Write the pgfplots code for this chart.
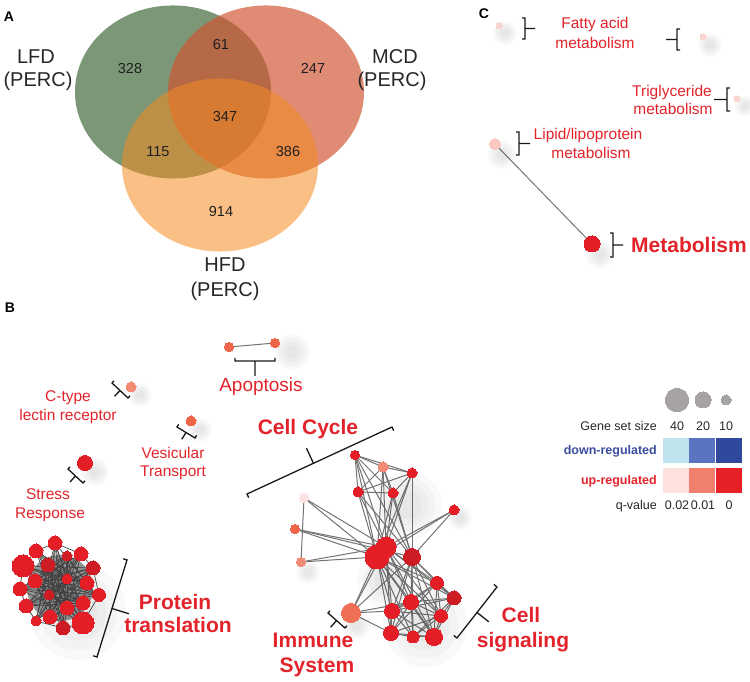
\documentclass[border=0pt]{standalone}
\usepackage{pgfplots}
\pgfplotsset{compat=1.18}
\usepackage{pgfplotstable}
\usepackage{fontspec}
\setmainfont{Liberation Sans}

\definecolor{vgreen}{RGB}{67,107,62}
\definecolor{vsalmon}{RGB}{209,84,49}
\definecolor{vorange}{RGB}{244,139,33}
\definecolor{labred}{RGB}{226,35,42}
\definecolor{blabel}{RGB}{58,77,159}
\definecolor{edgegray}{RGB}{115,115,115}
\definecolor{meshgray}{RGB}{70,70,70}
\definecolor{cred}{RGB}{228,30,38}
\definecolor{cdred}{RGB}{205,28,36}
\definecolor{corange}{RGB}{238,101,73}
\definecolor{csalmon}{RGB}{242,138,116}
\definecolor{cpale}{RGB}{251,226,222}
\definecolor{cpink}{RGB}{248,200,193}
\definecolor{clpink}{RGB}{250,214,209}
\definecolor{cimm}{RGB}{239,110,86}
\definecolor{cleg}{RGB}{167,162,164}
\definecolor{bA}{RGB}{191,228,238}
\definecolor{bB}{RGB}{90,116,194}
\definecolor{bC}{RGB}{47,74,156}
\definecolor{bD}{RGB}{253,225,221}
\definecolor{bE}{RGB}{240,127,109}
\definecolor{bF}{RGB}{229,32,39}

\pgfplotsset{
  nodeplot/.style={only marks, scatter, mark=*,
    scatter/use mapped color={draw=#1, fill=#1, line width=0pt},
    visualization depends on={\thisrow{r}\as\rr},
    scatter/@pre marker code/.append style={/tikz/mark size=\rr pt}},
  shadowplot/.style={only marks, scatter, mark=*,
    scatter/use mapped color={draw=black, draw opacity=0, fill=black, fill opacity=0.022},
    visualization depends on={#1*\thisrow{r}\as\rr},
    scatter/@pre marker code/.append style={/tikz/mark size=\rr pt}},
  boxplot/.style={only marks, mark=square*, mark size=12.5pt, mark options={yscale=0.95, draw=#1, fill=#1, line width=0.3pt}},
  venn/.style 2 args={only marks, mark=*, mark size=98pt, mark options={yscale=0.883, draw=#1, draw opacity=0, fill=#1, fill opacity=#2}},
}

% node tables, one per colour: x y radius
\pgfplotstableread{
x y r
85 463 7.5
355 455 4.5
412 473 5
358 492 5
393 493 5
454 510 5
386 547 10
377 557 12
437 583 6.5
411 602 7.5
392 611 7.5
441 616 6.5
391 633 7.5
413 637 6
434 637 8.5
55 543 7
36 551 7
81 554 7
23 566 11
35 581 7
67 579 5
87 583 7
20 589 7
99 595 6.5
26 606 7
67 608 7
83 603 7
50 617 7
36 621 5
83 623 11
592 244 8
}\nRed
\pgfplotstableread{
x y r
412 557 8.5
454 598 7
67 556 5
48 565 7
93 568 7
49 595 5
63 628 7
}\nDred
\pgfplotstableread{
x y r
229 347 4.7
275 343 4.5
191 421 5
295 529 4.5
}\nOrange
\pgfplotstableread{
x y r
131 387 5
383 467 5
301 562 4.5
}\nSalmon
\pgfplotstableread{
x y r
304 498 4.5
}\nPale
\pgfplotstableread{
x y r
495 144 5.5
}\nPink
\pgfplotstableread{
x y r
499 26 3
703 37 3
737 99 3
}\nLpink
\pgfplotstableread{
x y r
351 613 9.5
}\nImm
\pgfplotstableread{
x y r
677 400 11.7
703 400 8
726 400 5
}\nLeg

\pgfplotstableread{
x y r
78 612 48
408 505 34
425 625 42
385 580 28
292 352 18
140 395 12
200 430 12
95 472 14
505 33 12
710 45 12
745 106 10
502 155 14
600 255 14
460 518 12
308 572 12
357 625 14
}\shadows

\pgfplotstableread{
x1 y1 x2 y2
229 347 275 343
495 144 592 244
355 455 383 467
355 455 358 492
355 455 393 493
355 455 412 473
383 467 412 473
383 467 358 492
383 467 393 493
412 473 358 492
412 473 393 493
358 492 393 493
355 455 377 557
355 455 386 547
383 467 377 557
383 467 386 547
383 467 412 557
412 473 412 557
412 473 386 547
412 473 377 557
358 492 377 557
358 492 386 547
358 492 412 557
393 493 377 557
393 493 386 547
393 493 412 557
355 455 412 557
304 498 301 562
304 498 377 557
304 498 386 547
295 529 377 557
295 529 386 547
295 529 412 557
301 562 377 557
301 562 386 547
454 510 377 557
454 510 386 547
454 510 412 557
377 557 437 583
377 557 454 598
377 557 411 602
377 557 392 611
377 557 441 616
377 557 391 633
377 557 413 637
377 557 434 637
386 547 437 583
386 547 454 598
386 547 411 602
386 547 392 611
386 547 441 616
386 547 391 633
386 547 434 637
412 557 437 583
412 557 454 598
412 557 411 602
412 557 392 611
412 557 441 616
412 557 413 637
412 557 434 637
412 557 391 633
437 583 454 598
437 583 411 602
437 583 392 611
437 583 441 616
437 583 391 633
437 583 434 637
454 598 411 602
454 598 392 611
454 598 441 616
454 598 434 637
454 598 413 637
411 602 392 611
411 602 441 616
411 602 391 633
411 602 413 637
411 602 434 637
392 611 441 616
392 611 391 633
392 611 413 637
392 611 434 637
441 616 391 633
441 616 413 637
441 616 434 637
391 633 413 637
413 637 434 637
391 633 434 637
351 613 377 557
351 613 386 547
351 613 412 557
351 613 392 611
351 613 391 633
351 613 411 602
}\edgesB

\pgfplotstableread{
x1 y1 x2 y2
55 543 81 554
81 554 93 568
93 568 99 595
99 595 83 623
83 623 63 628
63 628 36 621
36 621 26 606
26 606 20 589
20 589 23 566
23 566 36 551
36 551 55 543
55 543 63 628
55 543 83 623
55 543 36 621
55 543 50 617
55 543 67 608
55 543 67 579
55 543 49 595
55 543 87 583
81 554 26 606
81 554 36 621
81 554 63 628
81 554 20 589
81 554 35 581
81 554 49 595
81 554 50 617
93 568 20 589
93 568 26 606
93 568 35 581
93 568 23 566
93 568 50 617
93 568 49 595
93 568 36 621
99 595 23 566
99 595 36 551
99 595 20 589
99 595 35 581
99 595 48 565
99 595 26 606
83 623 36 551
83 623 23 566
83 623 48 565
83 623 67 556
83 623 20 589
83 623 35 581
63 628 36 551
63 628 67 556
63 628 23 566
63 628 48 565
36 621 67 556
36 621 48 565
36 621 87 583
36 621 67 579
26 606 67 556
26 606 87 583
26 606 67 579
26 606 83 603
20 589 67 556
20 589 87 583
20 589 83 603
23 566 87 583
23 566 83 603
23 566 67 608
23 566 67 579
36 551 83 603
36 551 67 608
36 551 87 583
36 551 67 579
67 556 67 579
67 556 48 565
67 556 87 583
48 565 35 581
48 565 67 579
35 581 49 595
67 579 49 595
67 579 87 583
87 583 83 603
49 595 67 608
49 595 50 617
67 608 83 603
67 608 50 617
35 581 67 579
48 565 49 595
67 556 49 595
67 579 67 608
67 579 83 603
87 583 67 608
49 595 83 603
35 581 50 617
48 565 67 608
67 556 67 608
48 565 87 583
35 581 83 603
35 581 67 608
50 617 83 603
67 556 35 581
50 617 67 579
}\meshP

\pgfplotstableread{
x y
235 358
235 361
275 361
275 358
nan nan
255 361
255 376
nan nan
114 380.8
112 383
128 398
130 395.8
nan nan
120 390.5
114.6 396.3
nan nan
178.6 424.4
177 427
195 438
196.6 435.4
nan nan
186 432.5
181.8 439.3
nan nan
70 466.8
68 469
83 483
85 480.8
nan nan
75.5 476
70 482
nan nan
248.7 497.6
247 494
392 427
393.7 430.6
nan nan
313.5 463.4
306.5 448.3
nan nan
123.2 558.8
127 560
97 657
93.2 655.8
nan nan
112 608.5
129 613.8
nan nan
330 610.8
328 613
345 628
347 625.8
nan nan
336.5 620.5
330.6 627.3
nan nan
493.9 584.5
497 587
457 638
453.9 635.5
nan nan
477 612.5
488.8 621.8
nan nan
522 18
525 18
525 39
522 39
nan nan
525 28.5
535 28.5
nan nan
680 29
677 29
677 50
680 50
nan nan
677 39.5
666 39.5
nan nan
730 88
727 88
727 111
730 111
nan nan
727 99.5
714 99.5
nan nan
516 132
519 132
519 155
516 155
nan nan
519 143.5
530 143.5
nan nan
610 233
613 233
613 257
610 257
nan nan
613 245
623 245
}\brackets

\tikzset{
  vnum/.style={anchor=base, inner sep=0pt, font=\fontsize{14.5}{17}\selectfont, text=black!88},
  vlab/.style={anchor=base, inner sep=0pt, font=\fontsize{20}{23}\selectfont, text=black!85},
  plet/.style={anchor=base, inner sep=0pt, font=\fontsize{14}{16}\selectfont\bfseries},
  lab/.style={anchor=base, inner sep=0pt, font=\fontsize{15.5}{18}\selectfont, text=labred},
  blab/.style={anchor=base, inner sep=0pt, font=\fontsize{21}{24}\selectfont\bfseries, text=labred},
  leg/.style={anchor=base, inner sep=0pt, font=\fontsize{12.5}{15}\selectfont, text=black!85},
}

\begin{document}
\begin{tikzpicture}
\begin{axis}[x=1pt, y=1pt, xmin=0, xmax=750, ymin=0, ymax=682, y dir=reverse, hide axis, clip=false, set layers]
\coordinate (BL) at (axis cs:0,682);
\coordinate (TR) at (axis cs:750,0);

% ---------- Venn (panel A)
\addplot[venn={vgreen}{0.7}] coordinates {(173,92)};
\addplot[venn={vsalmon}{0.68}] coordinates {(266,92)};
\addplot[venn={vorange}{0.55}] coordinates {(220,165)};

% ---------- shadows
\addplot[shadowplot=1.0] table[x=x,y=y] {\shadows};
\addplot[shadowplot=0.8] table[x=x,y=y] {\shadows};
\addplot[shadowplot=0.6] table[x=x,y=y] {\shadows};
\addplot[shadowplot=0.4] table[x=x,y=y] {\shadows};

% ---------- edges
\addplot[only marks, mark=*, mark size=33pt, mark options={draw=black, draw opacity=0, fill=black!75, fill opacity=0.55}] coordinates {(60,588)};
\addplot[meshgray, line width=0.7pt, no markers, quiver={u=\thisrow{x2}-\thisrow{x1}, v=\thisrow{y2}-\thisrow{y1}}] table[x=x1,y=y1] {\meshP};
\addplot[edgegray, line width=1pt, no markers, quiver={u=\thisrow{x2}-\thisrow{x1}, v=\thisrow{y2}-\thisrow{y1}}] table[x=x1,y=y1] {\edgesB};

% ---------- brackets
\addplot[black!90, line width=1.3pt, no markers, unbounded coords=jump] table[x=x,y=y] {\brackets};

% ---------- nodes
\addplot[nodeplot=cred] table[x=x,y=y] {\nRed};
\addplot[nodeplot=cdred] table[x=x,y=y] {\nDred};
\addplot[nodeplot=corange] table[x=x,y=y] {\nOrange};
\addplot[nodeplot=csalmon] table[x=x,y=y] {\nSalmon};
\addplot[nodeplot=cpale] table[x=x,y=y] {\nPale};
\addplot[nodeplot=cpink] table[x=x,y=y] {\nPink};
\addplot[nodeplot=clpink] table[x=x,y=y] {\nLpink};
\addplot[nodeplot=cimm] table[x=x,y=y] {\nImm};
\addplot[nodeplot=cleg] table[x=x,y=y] {\nLeg};

% ---------- legend boxes
\addplot[boxplot=bA] coordinates {(675.5,450)};
\addplot[boxplot=bB] coordinates {(702,450)};
\addplot[boxplot=bC] coordinates {(728.5,450)};
\addplot[boxplot=bD] coordinates {(675.5,480)};
\addplot[boxplot=bE] coordinates {(702,480)};
\addplot[boxplot=bF] coordinates {(728.5,480)};

\begin{pgfonlayer}{axis foreground}
\node[vnum] at (axis cs:130,73.1) {328};
\node[vnum] at (axis cs:221,49.1) {61};
\node[vnum] at (axis cs:313,73.1) {247};
\node[vnum] at (axis cs:225,121.1) {347};
\node[vnum] at (axis cs:158,156.1) {115};
\node[vnum] at (axis cs:288,156.1) {386};
\node[vnum] at (axis cs:221,216.1) {914};
\node[vlab] at (axis cs:36,64) {LFD};
\node[vlab] at (axis cs:38,87) {(PERC)};
\node[vlab] at (axis cs:395,64) {MCD};
\node[vlab] at (axis cs:392,87) {(PERC)};
\node[vlab] at (axis cs:225,272) {HFD};
\node[vlab] at (axis cs:225,297) {(PERC)};

\node[plet] at (axis cs:9,22) {A};
\node[plet] at (axis cs:10,313) {B};
\node[plet] at (axis cs:484,19) {C};

\node[lab, font=\fontsize{19}{22}\selectfont] at (axis cs:261,391.7) {Apoptosis};
\node[lab] at (axis cs:68,401.4) {C-type};
\node[lab] at (axis cs:68,420.4) {lectin receptor};
\node[lab] at (axis cs:173,458.4) {Vesicular};
\node[lab] at (axis cs:173,476.4) {Transport};
\node[lab] at (axis cs:48,499.4) {Stress};
\node[lab] at (axis cs:50,518.4) {Response};
\node[blab] at (axis cs:308,434.4) {Cell Cycle};
\node[blab] at (axis cs:175,609.4) {Protein};
\node[blab] at (axis cs:178,632.4) {translation};
\node[blab] at (axis cs:313,647.4) {Immune};
\node[blab] at (axis cs:317,672.4) {System};
\node[blab] at (axis cs:521,622.4) {Cell};
\node[blab] at (axis cs:523,648) {signaling};

\node[lab] at (axis cs:595,28.4) {Fatty acid};
\node[lab] at (axis cs:595,48.4) {metabolism};
\node[lab] at (axis cs:672,96.4) {Triglyceride};
\node[lab] at (axis cs:673,114.4) {metabolism};
\node[lab] at (axis cs:588,139.4) {Lipid/lipoprotein};
\node[lab] at (axis cs:591,158.4) {metabolism};
\node[blab, anchor=base west] at (axis cs:631,252.4) {Metabolism};

\node[leg, anchor=base east] at (axis cs:657,430.4) {Gene set size};
\node[leg] at (axis cs:677,430.4) {40};
\node[leg] at (axis cs:703,430.4) {20};
\node[leg] at (axis cs:726,430.4) {10};
\node[leg, anchor=base east, font=\fontsize{12.5}{15}\selectfont\bfseries, text=blabel] at (axis cs:657,454.4) {down-regulated};
\node[leg, anchor=base east, font=\fontsize{12.5}{15}\selectfont\bfseries, text=labred] at (axis cs:657,484.4) {up-regulated};
\node[leg, anchor=base east] at (axis cs:657,509.4) {q-value};
\node[leg] at (axis cs:677,509.4) {0.02};
\node[leg] at (axis cs:703,509.4) {0.01};
\node[leg] at (axis cs:729,509.4) {0};
\end{pgfonlayer}
\end{axis}
\pgfresetboundingbox
\path[use as bounding box] (BL) rectangle (TR);
\end{tikzpicture}
\end{document}
